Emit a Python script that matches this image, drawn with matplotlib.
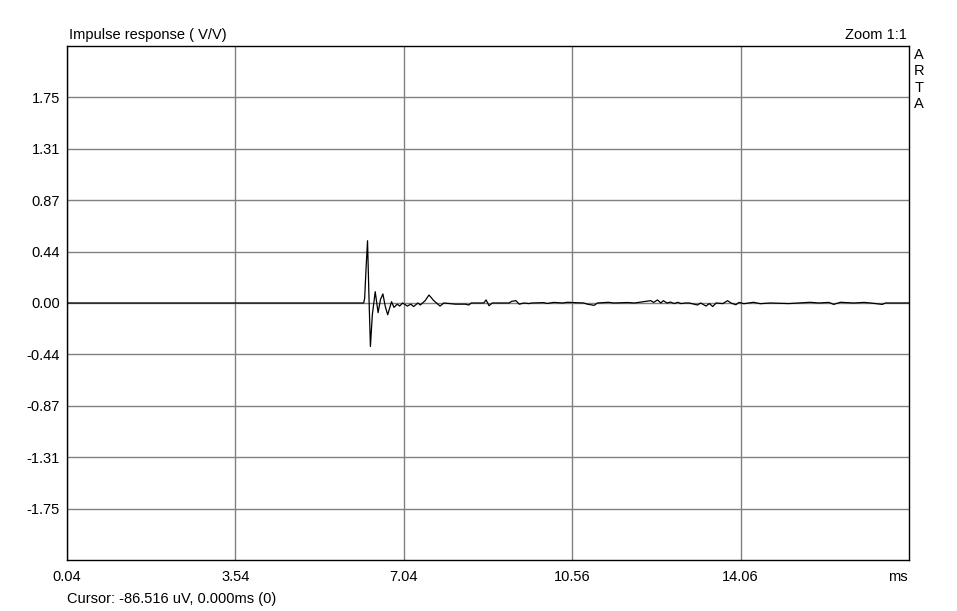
import matplotlib
matplotlib.use("Agg")
from matplotlib import pyplot as plt

plt.rcParams['font.family'] = ['Liberation Sans', 'DejaVu Sans']
plt.rcParams['font.size'] = 10.5

# impulse response (time in ms, amplitude in V/V)
t_ms = [0.04, 6.22, 6.24, 6.27, 6.30, 6.33, 6.36, 6.40, 6.46, 6.52, 6.57, 6.62,
        6.67, 6.72, 6.80, 6.85, 6.92, 6.97, 7.03, 7.13, 7.20, 7.26, 7.35, 7.40,
        7.50, 7.58, 7.68, 7.81, 7.89, 8.13, 8.34, 8.41, 8.46, 8.72, 8.77, 8.83,
        8.90, 9.25, 9.30, 9.39, 9.46, 9.56, 9.66, 9.72, 9.97, 10.04, 10.18,
        10.36, 10.46, 10.80, 10.88, 11.02, 11.09, 11.32, 11.43, 11.72, 11.86,
        12.20, 12.26, 12.34, 12.41, 12.46, 12.54, 12.61, 12.69, 12.76, 12.83,
        12.92, 13.00, 13.17, 13.24, 13.35, 13.42, 13.49, 13.56, 13.70, 13.80,
        13.87, 13.97, 14.04, 14.14, 14.34, 14.48, 14.69, 15.07, 15.52, 15.70,
        15.91, 16.01, 16.15, 16.43, 16.64, 16.78, 17.02, 17.09, 17.58]
v = [0.0, 0.0, 0.04, 0.30, 0.53, 0.05, -0.37, -0.10, 0.096, -0.082, 0.03, 0.077,
     -0.03, -0.10, 0.011, -0.037, -0.01, -0.026, 0.0, -0.026, -0.01, -0.03,
     0.0, -0.017, 0.02, 0.068, 0.02, -0.026, 0.0, -0.01, -0.01, -0.017, 0.0,
     0.0, 0.026, -0.023, 0.0, 0.0, 0.014, 0.02, -0.01, 0.0, -0.005, 0.0, 0.003,
     -0.004, 0.005, 0.0, 0.006, 0.0, -0.01, -0.02, 0.0, 0.006, 0.0, 0.004, 0.0,
     0.02, 0.005, 0.026, 0.0, 0.02, 0.0, 0.008, -0.005, 0.006, -0.005, 0.0,
     0.0, -0.017, 0.0, -0.026, -0.005, -0.03, 0.0, -0.005, 0.02, 0.0, -0.015,
     0.005, -0.006, 0.006, -0.006, 0.0, -0.005, 0.006, 0.0, 0.005, -0.012,
     0.006, 0.0, 0.005, 0.0, -0.012, 0.0, 0.0]

x_ticks = [0.04, 3.5475, 7.055, 10.5625, 14.07]
x_labels = ["0.04", "3.54", "7.04", "10.56", "14.06"]
y_ticks = [-1.75, -1.3125, -0.875, -0.4375, 0.0, 0.4375, 0.875, 1.3125, 1.75]
y_labels = ["-1.75", "-1.31", "-0.87", "-0.44", "0.00", "0.44", "0.87", "1.31", "1.75"]

fig = plt.figure(figsize=(9.57, 6.11), dpi=100)
ax = fig.add_axes([0.0700, 0.0835, 0.8798, 0.8412])

ax.plot(t_ms, v, color='black', linewidth=0.9)

ax.set_xlim(0.04, 17.5775)
ax.set_ylim(-2.1875, 2.1875)
ax.set_xticks(x_ticks)
ax.set_xticklabels(x_labels)
ax.set_yticks(y_ticks)
ax.set_yticklabels(y_labels)
ax.tick_params(axis='x', length=0, pad=7.5)
ax.tick_params(axis='y', length=0, pad=5)
ax.grid(True, color='#808080', linewidth=1.0)
ax.set_axisbelow(True)
for s in ax.spines.values():
    s.set_linewidth(1.0)
    s.set_color('black')

fig.text(69 / 957, 1 - 35 / 611, "Impulse response ( V/V)", ha='left', va='center')
fig.text(907 / 957, 1 - 35 / 611, "Zoom 1:1", ha='right', va='center')
for i, ch in enumerate("ARTA"):
    fig.text(919 / 957, 1 - (55 + 16.3 * i) / 611, ch, ha='center', va='center')
fig.text(898 / 957, 1 - 577 / 611, "ms", ha='center', va='center')
fig.text(67 / 957, 1 - 599 / 611, "Cursor: -86.516 uV, 0.000ms (0)", ha='left', va='center')

fig.savefig("out.png", dpi=100)
